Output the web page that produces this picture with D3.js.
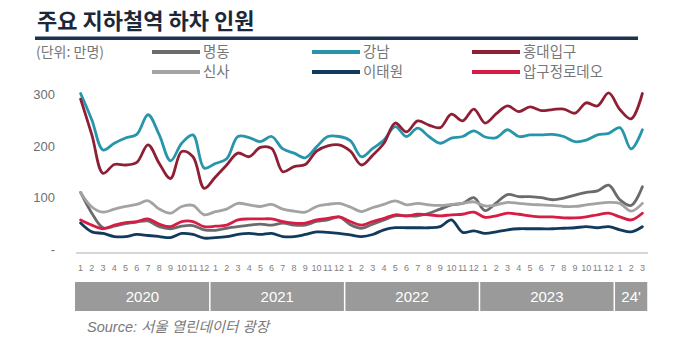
<!DOCTYPE html>
<html><head><meta charset="utf-8">
<script src="https://cdn.jsdelivr.net/npm/d3@7"></script>
<style>
html,body{margin:0;padding:0;background:#fff;}
svg{display:block;}
text{font-family:"Liberation Sans","Noto Sans CJK KR",sans-serif;}
.kr{font-family:"Noto Sans CJK KR",sans-serif;}
</style></head>
<body>
<script>
const years = ["2020","2021","2022","2023","24'"];
const monthsPerYear = [12,12,12,12,3];
const yTicks = [0,100,200,300];
const yTickLabels = ["-","100","200","300"];
const seriesNames = ["명동","강남","홍대입구","신사","이태원","압구정로데오"];

const myeongdong = [110,70,42,45,50,53,55,44,40,45,46,38,37,
  41,44,47,49,47,51,47,47,54,57,63,
  48,41,49,57,65,65,65,70,78,86,89,100,
  75,90,106,102,102,100,96,99,105,110,113,124,
  96,85,121];
const gangnam = [301,250,192,205,215,222,260,221,171,205,221,157,166,
  175,218,216,208,218,194,186,177,198,218,218,
  210,179,195,211,237,218,234,218,205,215,218,229,
  217,216,231,218,221,221,222,218,208,211,221,224,
  235,194,231];
const hongdae = [290,221,147,164,163,168,202,166,137,189,179,118,140,
  163,186,179,197,195,150,160,164,190,200,202,
  190,163,182,205,244,227,248,240,235,261,248,271,
  244,262,277,266,275,268,270,271,263,283,277,302,
  270,252,301];
const sinsa = [110,82,72,78,83,87,94,78,70,83,85,67,73,
  78,89,86,83,87,78,74,72,83,87,89,
  82,73,81,87,94,86,89,86,85,87,89,92,
  84,86,91,89,87,86,85,83,83,86,89,91,
  89,74,89];
const itaewon = [51,34,31,25,25,29,27,25,23,31,29,22,23,
  25,29,31,29,31,25,25,29,34,33,31,
  28,25,29,38,42,42,42,42,44,57,33,36,
  31,34,38,40,40,40,40,41,42,44,42,44,
  38,34,44];
const apgujeong = [57,47,40,47,52,54,59,49,44,54,54,44,45,
  47,57,59,59,59,54,51,51,57,60,63,
  54,47,54,60,67,65,68,67,65,67,68,72,
  62,65,70,68,65,63,63,61,61,63,67,70,
  63,57,70];

const seriesValues = [myeongdong, gangnam, hongdae, sinsa, itaewon, apgujeong];
const colors = ["#6b6b6d","#2896aa","#8e1f35","#a3a3a3","#123a5c","#d71d45"];

const monthLabels = [];
monthsPerYear.forEach((n,yi)=>{ for(let m=1;m<=n;m++) monthLabels.push({year:yi, m:String(m), key: yi+"-"+m}); });

const W=700,H=340;
const svg = d3.select("body").append("svg").attr("width",W).attr("height",H);

// title
svg.append("text").attr("class","kr").attr("x",37).attr("y",29)
  .attr("font-size",22).attr("font-weight","bold").attr("fill","#1c2838")
  .text("주요 지하철역 하차 인원");
svg.append("rect").attr("x",35).attr("y",36.5).attr("width",603).attr("height",3.5).attr("fill","#1d3150");

// unit
svg.append("text").attr("class","kr").attr("x",36).attr("y",57)
  .attr("font-size",14).attr("fill","#777").text("(단위: 만명)");

// legend
const legX = [152,312,472];
const legY = [52,72];
seriesNames.forEach((name,i)=>{
  const col = i%3, row = Math.floor(i/3);
  const g = svg.append("g");
  g.append("line").attr("x1",legX[col]).attr("x2",legX[col]+48)
    .attr("y1",legY[row]).attr("y2",legY[row])
    .attr("stroke",colors[i]).attr("stroke-width",4);
  g.append("text").attr("class","kr").attr("x",legX[col]+51).attr("y",legY[row]+5)
    .attr("font-size",14.5).attr("fill","#777").text(name);
});

// scales
const x = d3.scaleBand().domain(monthLabels.map(d=>d.key)).range([75,648]).padding(0);
const bw = x.bandwidth();
const cx = i => x(monthLabels[i].key)+bw/2;
const y = d3.scaleLinear().domain([0,300]).range([249.5,94]);

// y axis labels
const yAxis = d3.axisLeft(y).tickValues(yTicks).tickSize(0).tickFormat((d,i)=>yTickLabels[i]);
const ya = svg.append("g").attr("transform","translate(58,0)").call(yAxis);
ya.select(".domain").remove();
ya.selectAll("text").attr("font-size",13).attr("fill","#6f6f6f")
  .attr("font-family","Liberation Sans, sans-serif").attr("dx",0);

// baseline
svg.append("line").attr("x1",76).attr("x2",648).attr("y1",253).attr("y2",253)
  .attr("stroke","#c8c8c8").attr("stroke-width",1.5);

// lines
const line = d3.line().x((d,i)=>cx(i)).y(d=>y(d)).curve(d3.curveCatmullRom.alpha(0.5));
seriesValues.forEach((vals,i)=>{
  svg.append("path").attr("d",line(vals)).attr("fill","none")
    .attr("stroke",colors[i]).attr("stroke-width",2.8)
    .attr("stroke-linejoin","round").attr("stroke-linecap","round");
});

// month labels
const xAxis = d3.axisBottom(x).tickSize(0).tickFormat((k,i)=>monthLabels[i].m);
const xa = svg.append("g").attr("transform","translate(0,262)").call(xAxis);
xa.select(".domain").remove();
xa.selectAll("text").attr("font-size",9).attr("fill","#808080")
  .attr("font-family","Liberation Sans, sans-serif");

// year band
let start=0;
years.forEach((yr,yi)=>{
  const n = monthsPerYear[yi];
  const x0 = x(monthLabels[start].key);
  const x1 = x(monthLabels[start+n-1].key)+bw;
  svg.append("rect").attr("x",x0+(yi>0?0.75:0)).attr("y",282).attr("width",x1-x0-(yi>0?0.75:0)-0.75).attr("height",29)
    .attr("fill","#9a9a9a");
  svg.append("text").attr("x",(x0+x1)/2).attr("y",302).attr("text-anchor","middle")
    .attr("font-size",15).attr("fill","#ffffff").text(yr);
  start+=n;
});

// source
svg.append("text").attr("x",87).attr("y",332).attr("font-size",14.5).attr("font-style","italic")
  .attr("fill","#7a7a7a").text("Source: 서울 열린데이터 광장");
</script>
</body></html>
